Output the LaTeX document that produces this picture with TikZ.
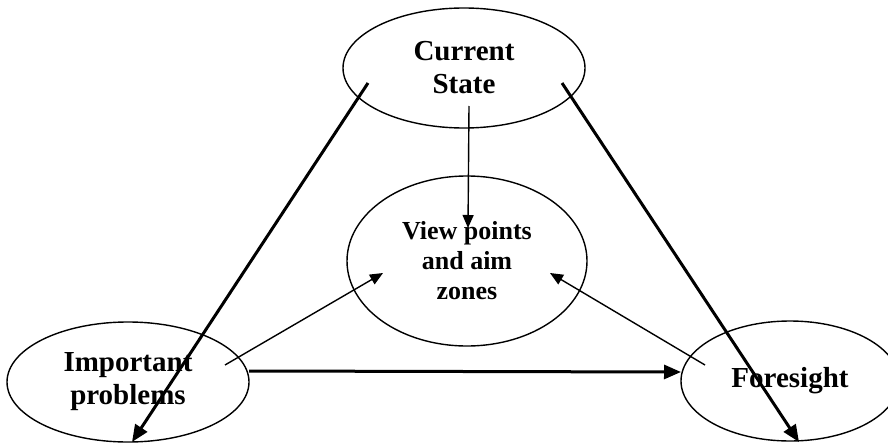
\documentclass[tikz,border=0pt]{standalone}
\usepackage{fontspec}
\setmainfont{Liberation Serif}
\usetikzlibrary{calc,arrows.meta,shapes.geometric}
\tikzset{
  oval/.style={draw,ellipse,line width=1.4pt,inner sep=0pt,align=center,
    minimum width=242pt,minimum height=120pt,font=\fontsize{29}{33}\selectfont\bfseries},
  bigar/.style={-{Triangle[length=17pt,width=14pt]},line width=3pt},
  ar/.style={-{Triangle[length=13pt,width=11pt]},line width=1.4pt}
}
\begin{document}
\begin{tikzpicture}[x=1pt,y=-1pt]
\clip (0,0) rectangle (888,444);
\node[oval] (cur) at (464,68) {Current\\State};
\node[oval,minimum width=240pt,minimum height=170pt,font=\fontsize{26}{30}\selectfont\bfseries] (view) at (467,261) {View points\\and aim\\zones};
\node[oval] (imp) at (128,382) {Important\\problems};
\node[oval,minimum width=218pt] (fore) at (790,381) {Foresight};
% free ends of the connectors
\coordinate (curL) at ($(cur)+(-96,15)$);
\coordinate (curR) at ($(cur)+(98,15)$);
\coordinate (curB) at ($(cur)+(5,38)$);
\coordinate (viewT) at ($(view)+(1,-33)$);
\coordinate (viewL) at ($(view)+(-84,12)$);
\coordinate (viewR) at ($(view)+(83,12)$);
\coordinate (impB) at ($(imp)+(4,60)$);
\coordinate (impI) at ($(imp)+(97,-17)$);
\coordinate (impE) at ($(imp)+(121,-11)$);
\coordinate (foreB) at ($(fore)+(9,61)$);
\coordinate (foreI) at ($(fore)+(-85,-16)$);
\coordinate (foreW) at ($(fore)+(-109,-9)$);
\draw[bigar] (curL) -- (impB);
\draw[bigar] (curR) -- (foreB);
\draw[bigar] (impE) -- (foreW);
\draw[ar] (curB) -- (viewT);
\draw[ar] (impI) -- (viewL);
\draw[ar] (foreI) -- (viewR);
\end{tikzpicture}
\end{document}
